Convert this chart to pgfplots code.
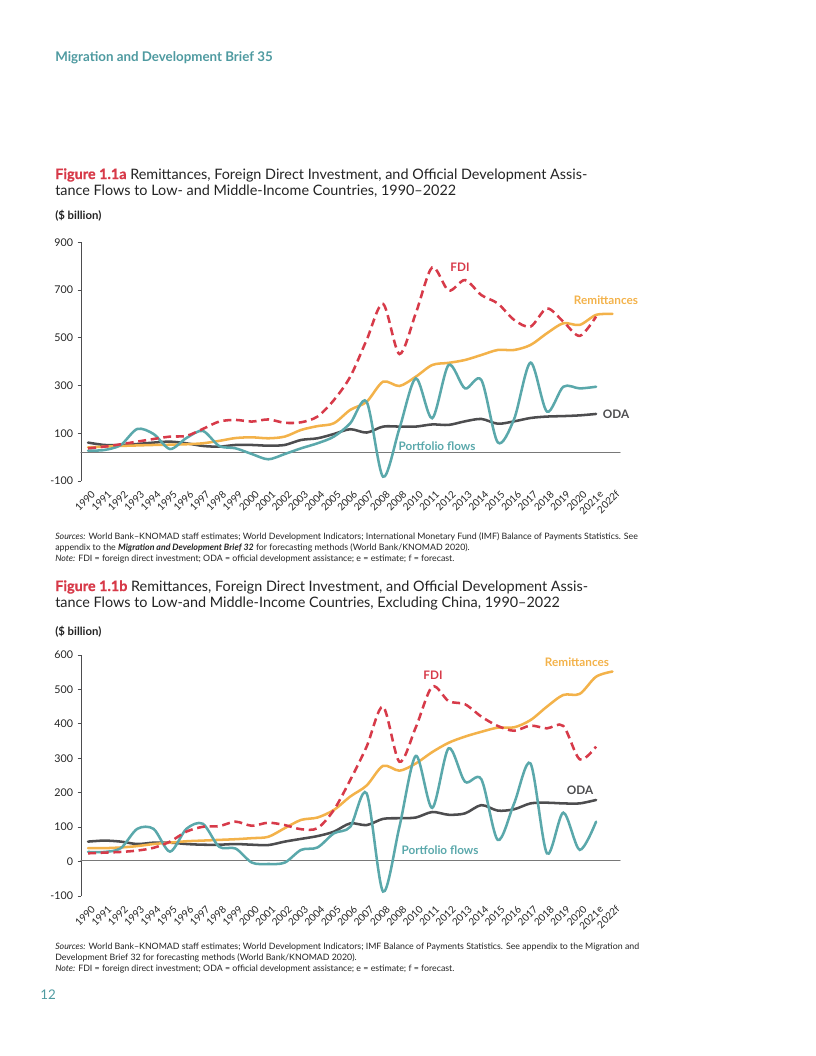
\documentclass[border=0pt]{standalone}
\usepackage{fontspec}
\setmainfont{Lato}
\newfontfamily\figfont[FakeBold=0.8]{Lato}
\usepackage{pgfplots}
\pgfplotsset{compat=1.18}
\definecolor{remit}{RGB}{243,178,74}
\definecolor{fdi}{RGB}{215,58,73}
\definecolor{port}{RGB}{90,168,171}
\definecolor{oda}{RGB}{77,77,79}
\definecolor{head}{RGB}{78,154,160}
\definecolor{txt}{RGB}{35,35,35}
\definecolor{zline}{RGB}{120,120,120}
\pgfplotsset{
 mdb/.style={
  scale only axis, width=404.25pt,
  xmin=-0.43, xmax=32.46,
  axis lines*=left,
  x axis line style={draw=none},
  y axis line style={draw=oda, line width=0.7pt},
  xtick={0,...,32},
  xticklabels={1990,1991,1992,1993,1994,1995,1996,1997,1998,1999,2000,2001,2002,2003,2004,2005,2006,2007,2008,2008,2010,2011,2012,2013,2014,2015,2016,2017,2018,2019,2020,2021e,2022f},
  x tick style={draw=none},
  tick align=outside,
  y tick style={draw=oda, line width=0.7pt},
  major tick length=2.5pt,
  yticklabel style={font=\fontsize{8}{9}\selectfont, text=txt},
  xticklabel style={font=\fontsize{7.5}{8}\selectfont, text=txt, yshift=-4pt, xshift=2pt, rotate=45, anchor=north east, inner sep=0pt},
  clip=false,
  every axis plot/.append style={smooth, line width=1.9pt, line cap=round},
 }
}
\begin{document}
\begin{tikzpicture}
\path[use as bounding box] (0,0) rectangle (612pt,-792pt);
\begin{scope}[x=0.75pt,y=-0.75pt]
\node[anchor=base west, inner sep=0pt, text=head, font=\fontsize{10}{12}\selectfont\bfseries] at (55,62) {Migration and Development Brief 35};
% Figure a title
\node[anchor=base west, inner sep=0pt, text=txt, font=\fontsize{10.8}{13}\selectfont] at (55,179) {\textcolor{fdi}{\figfont\bfseries Figure 1.1a} Remittances, Foreign Direct Investment, and Official Development Assis-};
\node[anchor=base west, inner sep=0pt, text=txt, font=\fontsize{10.8}{13}\selectfont] at (55,195) {tance Flows to Low- and Middle-Income Countries, 1990–2022};
\node[anchor=base west, inner sep=0pt, text=txt, font=\fontsize{8.5}{10}\selectfont\bfseries] at (55,219) {(\$ billion)};
% notes a
\node[anchor=base west, inner sep=0pt, text=txt, font=\fontsize{6.6}{8}\selectfont] at (55,539) {\textit{Sources:} World Bank–KNOMAD staff estimates; World Development Indicators; International Monetary Fund (IMF) Balance of Payments Statistics. See};
\node[anchor=base west, inner sep=0pt, text=txt, font=\fontsize{6.6}{8}\selectfont] at (55,550) {appendix to the \textbf{\textit{Migration and Development Brief 32}} for forecasting methods (World Bank/KNOMAD 2020).};
\node[anchor=base west, inner sep=0pt, text=txt, font=\fontsize{6.6}{8}\selectfont] at (55,561) {\textit{Note:} FDI = foreign direct investment; ODA = official development assistance; e = estimate; f = forecast.};
% Figure b title
\node[anchor=base west, inner sep=0pt, text=txt, font=\fontsize{10.8}{13}\selectfont] at (55,591) {\textcolor{fdi}{\figfont\bfseries Figure 1.1b} Remittances, Foreign Direct Investment, and Official Development Assis-};
\node[anchor=base west, inner sep=0pt, text=txt, font=\fontsize{10.8}{13}\selectfont] at (55,607) {tance Flows to Low-and Middle-Income Countries, Excluding China, 1990–2022};
\node[anchor=base west, inner sep=0pt, text=txt, font=\fontsize{8.5}{10}\selectfont\bfseries] at (55,635) {(\$ billion)};
% notes b
\node[anchor=base west, inner sep=0pt, text=txt, font=\fontsize{6.6}{8}\selectfont] at (55,949) {\textit{Sources:} World Bank–KNOMAD staff estimates; World Development Indicators; IMF Balance of Payments Statistics. See appendix to the Migration and};
\node[anchor=base west, inner sep=0pt, text=txt, font=\fontsize{6.6}{8}\selectfont] at (55,960) {Development Brief 32 for forecasting methods (World Bank/KNOMAD 2020).};
\node[anchor=base west, inner sep=0pt, text=txt, font=\fontsize{6.6}{8}\selectfont] at (55,971) {\textit{Note:} FDI = foreign direct investment; ODA = official development assistance; e = estimate; f = forecast.};
\node[anchor=base west, inner sep=0pt, text=head, font=\fontsize{10}{12}\selectfont] at (40,999) {12};
% series labels a
\node[text=fdi, font=\fontsize{8.8}{10}\selectfont\bfseries] at (460,267) {FDI};
\node[text=remit, font=\fontsize{8.8}{10}\selectfont\bfseries] at (606,300) {Remittances};
\node[text=oda, font=\fontsize{8.8}{10}\selectfont\bfseries] at (616,414) {ODA};
\node[text=port, font=\fontsize{8.8}{10}\selectfont\bfseries] at (437,446) {Portfolio flows};
% series labels b
\node[text=fdi, font=\fontsize{8.8}{10}\selectfont\bfseries] at (433,675) {FDI};
\node[text=remit, font=\fontsize{8.8}{10}\selectfont\bfseries] at (577,662) {Remittances};
\node[text=oda, font=\fontsize{8.8}{10}\selectfont\bfseries] at (580,790) {ODA};
\node[text=port, font=\fontsize{8.8}{10}\selectfont\bfseries] at (440,850) {Portfolio flows};
\end{scope}

% ---------- Chart a ----------
\begin{axis}[mdb, at={(60.75pt,-360.75pt)}, anchor=south west,
  height=179pt, ymin=-100, ymax=900,
  ytick={-100,100,300,500,700,900}, yticklabels={-100,100,300,500,700,900}]
\addplot[zline, line width=0.8pt, sharp plot] coordinates {(-0.43,18) (32.46,18)};
\addplot[oda] coordinates {(0,61)(1,51)(2,51)(3,55)(4,61)(5,65)(6,58)(7,47)(8,44)(9,51)(10,51)(11,48)(12,51)(13,72)(14,79)(15,97)(16,117)(17,103)(18,128)(19,128)(20,128)(21,137)(22,135)(23,150)(24,160)(25,140)(26,150)(27,164)(28,170)(29,172)(30,175)(31,181)};
\addplot[remit] coordinates {(0,41)(1,44)(2,47)(3,49)(4,51)(5,52)(6,54)(7,58)(8,68)(9,80)(10,83)(11,79)(12,86)(13,114)(14,130)(15,142)(16,198)(17,232)(18,316)(19,298)(20,337)(21,386)(22,395)(23,407)(24,428)(25,449)(26,449)(27,470)(28,519)(29,561)(30,554)(31,596)(32,600)};
\addplot[port] coordinates {(0,27)(1,30)(2,51)(3,118)(4,97)(5,34)(6,80)(7,110)(8,47)(9,37)(10,13)(11,-9)(12,13)(13,37)(14,58)(15,86)(16,142)(17,232)(18,-82)(19,120)(20,330)(21,163)(22,386)(23,288)(24,323)(25,62)(26,160)(27,396)(28,191)(29,295)(30,288)(31,295)};
\addplot[fdi, line cap=butt, dash pattern=on 6pt off 3.5pt] coordinates {(0,37)(1,44)(2,54)(3,65)(4,76)(5,86)(6,89)(7,118)(8,149)(9,156)(10,149)(11,158)(12,144)(13,146)(14,170)(15,239)(16,337)(17,491)(18,642)(19,432)(20,603)(21,795)(22,698)(23,742)(24,679)(25,644)(26,575)(27,547)(28,623)(29,568)(30,508)(31,589)};
\end{axis}

% ---------- Chart b ----------
\begin{axis}[mdb, at={(60.75pt,-672pt)}, anchor=south west,
  height=180.75pt, ymin=-100, ymax=600,
  ytick={-100,0,100,200,300,400,500,600}, yticklabels={-100,0,100,200,300,400,500,600}]
\addplot[zline, line width=0.8pt, sharp plot] coordinates {(-0.43,3) (32.46,3)};
\addplot[oda] coordinates {(0,58)(1,61)(2,58)(3,51)(4,55)(5,55)(6,51)(7,49)(8,49)(9,51)(10,49)(11,48)(12,58)(13,66)(14,74)(15,87)(16,111)(17,106)(18,124)(19,126)(20,128)(21,144)(22,136)(23,140)(24,164)(25,148)(26,152)(27,169)(28,171)(29,169)(30,169)(31,179)};
\addplot[remit] coordinates {(0,39)(1,39)(2,41)(3,45)(4,51)(5,55)(6,59)(7,61)(8,63)(9,65)(10,68)(11,72)(12,97)(13,121)(14,128)(15,150)(16,189)(17,221)(18,278)(19,264)(20,285)(21,318)(22,345)(23,363)(24,377)(25,389)(26,390)(27,411)(28,450)(29,484)(30,487)(31,537)(32,552)};
\addplot[port] coordinates {(0,28)(1,28)(2,39)(3,95)(4,95)(5,29)(6,95)(7,110)(8,43)(9,38)(10,-3)(11,-7)(12,-3)(13,34)(14,41)(15,82)(16,101)(17,198)(18,-87)(19,101)(20,307)(21,156)(22,329)(23,232)(24,239)(25,63)(26,169)(27,285)(28,24)(29,142)(30,34)(31,116)};
\addplot[fdi, line cap=butt, dash pattern=on 6pt off 3.5pt] coordinates {(0,24)(1,26)(2,28)(3,32)(4,40)(5,58)(6,87)(7,101)(8,103)(9,116)(10,104)(11,113)(12,106)(13,94)(14,97)(15,150)(16,237)(17,334)(18,450)(19,290)(20,390)(21,508)(22,466)(23,457)(24,421)(25,394)(26,380)(27,395)(28,387)(29,394)(30,297)(31,334)};
\end{axis}
\end{tikzpicture}
\end{document}
